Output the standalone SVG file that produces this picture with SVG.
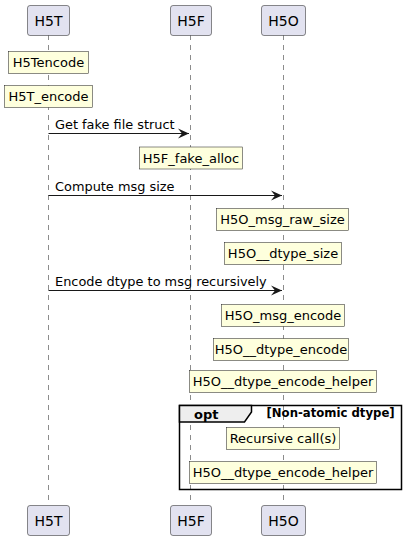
<svg xmlns="http://www.w3.org/2000/svg" width="406" height="540" viewBox="0 0 406 540">
<defs>
<style>
.life{stroke:#181818;stroke-width:0.5;stroke-dasharray:5,5;fill:none}
.part rect{fill:#E2E2F0;stroke:#181818;stroke-width:0.5}
.part text{font-family:"DejaVu Sans",sans-serif;font-size:14px;fill:#000;text-anchor:middle}
.note rect{fill:#FEFFDD;stroke:#181818;stroke-width:0.5}
.note text{font-family:"DejaVu Sans",sans-serif;font-size:13px;fill:#000;text-anchor:middle}
.msg line{stroke:#181818;stroke-width:1}
.msg polygon{fill:#181818}
.msg text{font-family:"DejaVu Sans",sans-serif;font-size:12.9px;fill:#000}
.frame text{font-family:"DejaVu Sans",sans-serif;font-weight:bold;fill:#000}
</style>
</defs>
<rect width="406" height="540" fill="#FFFFFF"/>
<g id="lifelines">
<line class="life" x1="48.5" y1="35" x2="48.5" y2="505"/>
<line class="life" x1="190.5" y1="35" x2="190.5" y2="505"/>
<line class="life" x1="283.5" y1="35" x2="283.5" y2="505"/>
</g>
<g id="H5T" class="part">
<rect x="27.5" y="5.5" width="42" height="30" rx="2.5"/>
<text x="48.5" y="25.5">H5T</text>
<rect x="27.5" y="505.5" width="42" height="30" rx="2.5"/>
<text x="48.5" y="525.5">H5T</text>
</g>
<g id="H5F" class="part">
<rect x="170.5" y="5.5" width="41" height="30" rx="2.5"/>
<text x="191" y="25.5">H5F</text>
<rect x="170.5" y="505.5" width="41" height="30" rx="2.5"/>
<text x="191" y="525.5">H5F</text>
</g>
<g id="H5O" class="part">
<rect x="261.5" y="5.5" width="44" height="30" rx="2.5"/>
<text x="283.5" y="25.5">H5O</text>
<rect x="261.5" y="505.5" width="44" height="30" rx="2.5"/>
<text x="283.5" y="525.5">H5O</text>
</g>
<g id="frame-opt" class="frame">
<rect x="179.5" y="405.5" width="222" height="84" fill="none" stroke="#000" stroke-width="1.5"/>
<path d="M179.5,405.5 L251.5,405.5 L251.5,412 L244.5,422 L179.5,422 Z" fill="#EEEEEE" stroke="#000" stroke-width="1.5"/>
<text x="194" y="418.5" font-size="13">opt</text>
<text x="266.5" y="417" font-size="11.7">[Non-atomic dtype]</text>
</g>
<g id="connectors" class="msg">
<line x1="48.5" y1="133.5" x2="189" y2="133.5"/>
<polygon points="178,128.5 189,133.5 178,138.5 182,133.5"/>
<text x="55" y="129">Get fake file struct</text>
<line x1="48.5" y1="195.5" x2="282" y2="195.5"/>
<polygon points="271,190.5 282,195.5 271,200.5 275,195.5"/>
<text x="55" y="191">Compute msg size</text>
<line x1="48.5" y1="290.5" x2="282" y2="290.5"/>
<polygon points="271,285.5 282,290.5 271,295.5 275,290.5"/>
<text x="55" y="286">Encode dtype to msg recursively</text>
</g>
<g id="note-H5Tencode" class="note">
<rect x="8.5" y="51.5" width="80" height="22"/>
<text x="48.5" y="67">H5Tencode</text>
</g>
<g id="note-H5T_encode" class="note">
<rect x="4.5" y="85.5" width="88" height="22"/>
<text x="48.5" y="101">H5T_encode</text>
</g>
<g id="note-H5F_fake_alloc" class="note">
<rect x="139.5" y="147" width="103" height="22"/>
<text x="191" y="162.5">H5F_fake_alloc</text>
</g>
<g id="note-H5O_msg_raw_size" class="note">
<rect x="216.5" y="208.5" width="132" height="22"/>
<text x="282.5" y="224">H5O_msg_raw_size</text>
</g>
<g id="note-H5O__dtype_size" class="note">
<rect x="224.5" y="242.5" width="117" height="22"/>
<text x="283" y="258">H5O__dtype_size</text>
</g>
<g id="note-H5O_msg_encode" class="note">
<rect x="221.5" y="304.5" width="123" height="22"/>
<text x="283" y="320">H5O_msg_encode</text>
</g>
<g id="note-H5O__dtype_encode" class="note">
<rect x="213.5" y="338.5" width="135" height="22"/>
<text x="281" y="354">H5O__dtype_encode</text>
</g>
<g id="note-H5O__dtype_encode_helper" class="note">
<rect x="189.5" y="370.5" width="187" height="22"/>
<text x="283" y="386">H5O__dtype_encode_helper</text>
</g>
<g id="note-recursive" class="note">
<rect x="226.5" y="427.5" width="113" height="22"/>
<text x="283" y="443">Recursive call(s)</text>
</g>
<g id="note-H5O__dtype_encode_helper-2" class="note">
<rect x="189.5" y="461.5" width="187" height="22"/>
<text x="283" y="477">H5O__dtype_encode_helper</text>
</g>
</svg>
